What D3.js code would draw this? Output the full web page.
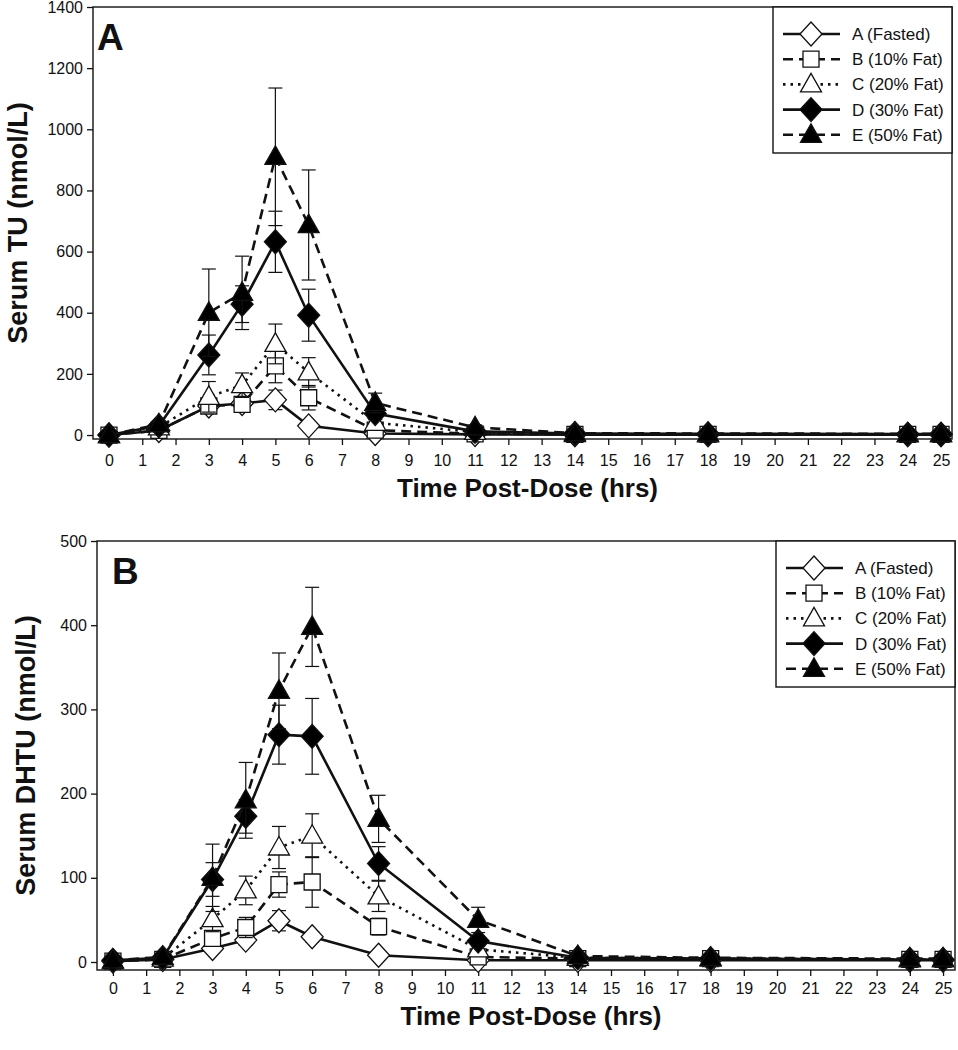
<!DOCTYPE html>
<html>
<head>
<meta charset="utf-8">
<script src="https://cdn.jsdelivr.net/npm/d3@7"></script>
<style>
body { margin:0; background:#fff; }
svg { display:block; }
text { font-family: "Liberation Sans", Arial, sans-serif; fill:#111; }
</style>
</head>
<body>
<svg id="chart" width="958" height="1050"></svg>
<script>
// ---------- DATA ----------
const times = [0, 1.5, 3, 4, 5, 6, 8, 11, 14, 18, 24, 25];
const xTicks = d3.range(0, 26);
const seriesNames = ["A (Fasted)", "B (10% Fat)", "C (20% Fat)", "D (30% Fat)", "E (50% Fat)"];

// Panel A: Serum TU (nmol/L)
const tuA = [0, 15, 95, 103, 115, 30, 5, 2, 1, 1, 1, 1];
const tuB = [0, 15, 95, 100, 226, 122, 16, 4, 2, 2, 2, 2];
const tuC = [0, 25, 125, 163, 298, 205, 40, 10, 3, 2, 2, 2];
const tuD = [0, 30, 262, 428, 632, 392, 70, 12, 5, 4, 3, 3];
const tuE = [0, 35, 400, 465, 910, 687, 105, 25, 6, 5, 4, 4];
const tuErrA = [0, 4, 15, 15, 32, 10, 3, 1, 0, 0, 0, 0];
const tuErrB = [0, 5, 20, 25, 55, 40, 8, 2, 1, 0, 0, 0];
const tuErrC = [0, 8, 50, 40, 65, 48, 12, 4, 1, 0, 0, 0];
const tuErrD = [0, 10, 65, 60, 100, 85, 20, 4, 1, 0, 0, 0];
const tuErrE = [0, 10, 143, 120, 225, 180, 32, 8, 2, 1, 1, 1];
const tuTicks = [0, 200, 400, 600, 800, 1000, 1200, 1400];

// Panel B: Serum DHTU (nmol/L)
const dhA = [1, 3, 16, 26, 49, 30, 8, 2, 2, 2, 2, 2];
const dhB = [1, 3, 28, 41, 92, 95, 42, 6, 4, 4, 3, 3];
const dhC = [1, 4, 51, 85, 136, 150, 78, 15, 5, 4, 3, 3];
const dhD = [2, 5, 98, 173, 270, 268, 117, 25, 5, 4, 3, 3];
const dhE = [2, 6, 100, 192, 322, 398, 170, 50, 7, 5, 4, 4];
const dhErrA = [0, 1, 4, 6, 12, 6, 3, 1, 0, 0, 0, 0];
const dhErrB = [0, 1, 8, 12, 15, 30, 10, 2, 1, 0, 0, 0];
const dhErrC = [0, 1, 15, 17, 25, 26, 18, 4, 1, 0, 0, 0];
const dhErrD = [0, 2, 20, 20, 35, 45, 20, 5, 1, 0, 0, 0];
const dhErrE = [0, 2, 40, 45, 45, 47, 28, 15, 2, 1, 1, 1];
const dhTicks = [0, 100, 200, 300, 400, 500];

// ---------- STYLES ----------
const styles = [
  {dash: null, marker: "diamond", fill: "#fff"},
  {dash: "10,6", marker: "square", fill: "#fff"},
  {dash: "2.5,5", marker: "triangle", fill: "#fff"},
  {dash: null, marker: "diamond", fill: "#000"},
  {dash: "10,6", marker: "triangle", fill: "#000"}
];

function markerPath(type) {
  if (type === "diamond") return "M0,-12L11,0L0,12L-11,0Z";
  if (type === "square") return "M-8,-8L8,-8L8,8L-8,8Z";
  return "M0,-11L10.5,7.5L-10.5,7.5Z";
}

const svg = d3.select("#chart");

function drawPanel(cfg) {
  const {left, right, top, bottom, xDomain, yDomain, yTicks, means, errs, yTitle, label, labelX,
         titleY, yTitleX, legendTop, xPad} = cfg;
  const x = d3.scaleLinear().domain(xDomain).range([left, right]);
  const y = d3.scaleLinear().domain(yDomain).range([bottom, top]);
  const g = svg.append("g");

  // frame
  g.append("rect").attr("x", left).attr("y", top).attr("width", right - left).attr("height", bottom - top)
    .attr("fill", "none").attr("stroke", "#111").attr("stroke-width", 1.4);

  // axes
  const xAxis = d3.axisBottom(x).tickValues(xTicks).tickSize(6).tickPadding(xPad).tickFormat(d3.format("d"));
  const gx = g.append("g").attr("transform", `translate(0,${bottom})`).call(xAxis);
  gx.select(".domain").remove();
  gx.selectAll("line").attr("stroke", "#111").attr("stroke-width", 1.3);
  gx.selectAll("text").attr("font-size", 16).attr("fill", "#111").attr("font-family", "Liberation Sans, Arial, sans-serif");

  const yAxis = d3.axisLeft(y).tickValues(yTicks).tickSize(6).tickPadding(4).tickFormat(d3.format("d"));
  const gy = g.append("g").attr("transform", `translate(${left},0)`).call(yAxis);
  gy.select(".domain").remove();
  gy.selectAll("line").attr("stroke", "#111").attr("stroke-width", 1.3);
  gy.selectAll("text").attr("font-size", 16).attr("fill", "#111").attr("font-family", "Liberation Sans, Arial, sans-serif");

  // titles
  g.append("text").attr("x", (left + right) / 2 + 5).attr("y", titleY).attr("text-anchor", "middle")
    .attr("font-size", 26).attr("font-weight", "bold").text("Time Post-Dose (hrs)");
  g.append("text").attr("transform", `translate(${yTitleX},${(top + bottom) / 2}) rotate(-90)`)
    .attr("text-anchor", "middle").attr("font-size", 27).attr("font-weight", "bold").text(yTitle);
  g.append("text").attr("x", labelX).attr("y", top + 43).attr("font-size", 37).attr("font-weight", "bold").text(label);

  // series
  means.forEach((vals, i) => {
    const st = styles[i];
    const pts = times.map((t, k) => ({t, v: vals[k], e: errs[i][k]}));
    const sg = g.append("g");
    // error bars
    pts.filter(p => p.e > 0).forEach(p => {
      const cx = x(p.t);
      sg.append("line").attr("x1", cx).attr("x2", cx).attr("y1", y(p.v - p.e)).attr("y2", y(p.v + p.e))
        .attr("stroke", "#111").attr("stroke-width", 1.2);
      [p.v - p.e, p.v + p.e].forEach(v => {
        sg.append("line").attr("x1", cx - 7).attr("x2", cx + 7).attr("y1", y(v)).attr("y2", y(v))
          .attr("stroke", "#111").attr("stroke-width", 1.2);
      });
    });
    // line
    const line = d3.line().x(p => x(p.t)).y(p => y(p.v));
    sg.append("path").attr("d", line(pts)).attr("fill", "none").attr("stroke", "#111")
      .attr("stroke-width", 2.6).attr("stroke-dasharray", st.dash);
    // markers
    sg.selectAll("path.m").data(pts).enter().append("path").attr("class", "m")
      .attr("d", markerPath(st.marker)).attr("transform", p => `translate(${x(p.t)},${y(p.v)})`)
      .attr("fill", st.fill).attr("stroke", "#111").attr("stroke-width", 1.3);
  });

  // legend
  const lw = 179, lh = 146, lx = right - lw, ly = legendTop;
  const lg = g.append("g");
  lg.append("rect").attr("x", lx).attr("y", ly).attr("width", lw).attr("height", lh)
    .attr("fill", "#fff").attr("stroke", "#111").attr("stroke-width", 1.4);
  seriesNames.forEach((name, i) => {
    const st = styles[i];
    const ry = ly + 27 + i * 25.2;
    lg.append("line").attr("x1", lx + 10).attr("x2", lx + 67).attr("y1", ry).attr("y2", ry)
      .attr("stroke", "#111").attr("stroke-width", 2.6).attr("stroke-dasharray", st.dash);
    lg.append("path").attr("d", markerPath(st.marker)).attr("transform", `translate(${lx + 38},${ry})`)
      .attr("fill", st.fill).attr("stroke", "#111").attr("stroke-width", 1.3);
    lg.append("text").attr("x", lx + 79).attr("y", ry + 6).attr("font-size", 17).text(name);
  });
}

drawPanel({
  left: 93, right: 952, top: 7, bottom: 439,
  xDomain: [-0.48, 25.33], yDomain: [-13, 1400], yTicks: tuTicks,
  means: [tuA, tuB, tuC, tuD, tuE], errs: [tuErrA, tuErrB, tuErrC, tuErrD, tuErrE],
  yTitle: "Serum TU (nmol/L)", label: "A", labelX: 97, titleY: 497, yTitleX: 27, legendTop: 7, xPad: 10
});
drawPanel({
  left: 97, right: 955, top: 541, bottom: 970,
  xDomain: [-0.48, 25.36], yDomain: [-9.5, 500], yTicks: dhTicks,
  means: [dhA, dhB, dhC, dhD, dhE], errs: [dhErrA, dhErrB, dhErrC, dhErrD, dhErrE],
  yTitle: "Serum DHTU (nmol/L)", label: "B", labelX: 112, titleY: 1025, yTitleX: 35, legendTop: 541, xPad: 7
});
</script>
</body>
</html>
